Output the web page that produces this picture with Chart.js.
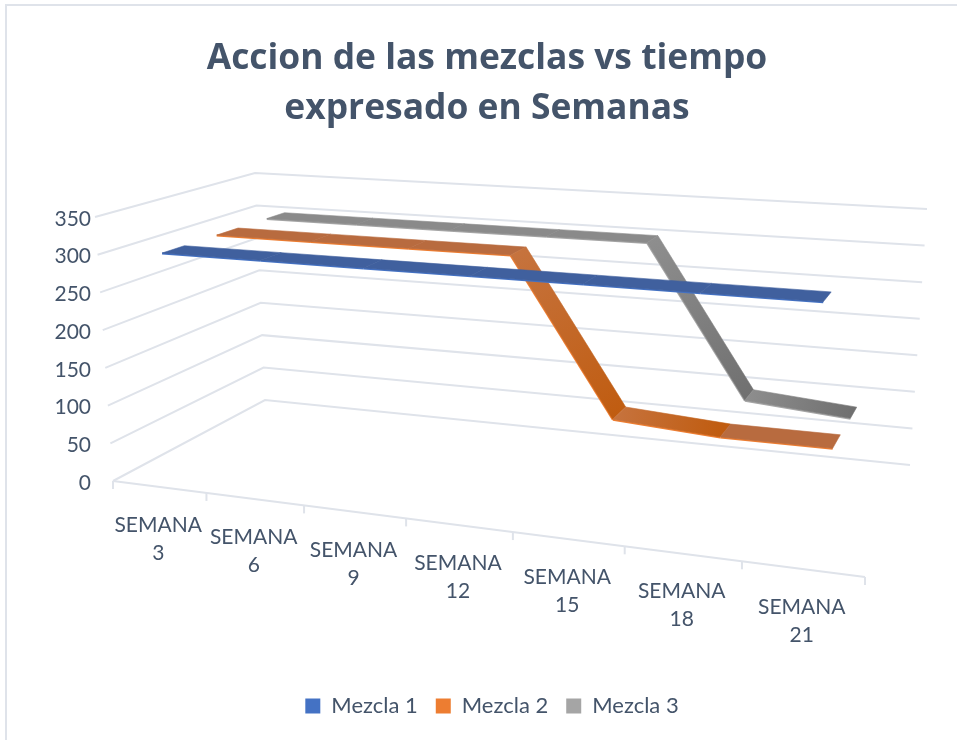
<!DOCTYPE html>
<html lang="es">
<head>
  <meta charset="UTF-8"/>
  <title>Accion de las mezclas vs tiempo</title>
  <style>
    html, body { margin: 0; background: #fff; }
    #wrap { width: 957px; height: 740px; }
  </style>
</head>
<body>
  <div id="wrap"><canvas id="chart"></canvas></div>

  <script src="https://cdn.jsdelivr.net/npm/chart.js"></script>
  <script>
  const titleLines = ['Accion de las mezclas vs tiempo', 'expresado en Semanas'];
  const semanas = ['SEMANA 3', 'SEMANA 6', 'SEMANA 9', 'SEMANA 12', 'SEMANA 15', 'SEMANA 18', 'SEMANA 21'];
  const mezcla1 = [300, 300, 300, 300, 300, 300, 300];
  const mezcla2 = [300, 300, 300, 300, 96, 87, 87];
  const mezcla3 = [300, 300, 300, 300, 300, 96, 85];
  const yTicks = [0, 50, 100, 150, 200, 250, 300, 350];

  const TEXT = '#44546a';
  const GRID = '#dfe3ea';
  const FONT = 'Lato';

  // box corners of the 3d plot: floor (v=0) and top (v=1)
  const floorQuad = [[113, 481], [865, 577], [910, 465], [265, 400]];
  const topQuad = [[95, 217], [885, 270], [927, 209], [255, 173]];

  // depth band and colours of each ribbon
  const ribbons = [
    { w0: 0.09, w1: 0.22, edge: '#4472c4', flat: '#40609e', light: '#40609e', dark: '#40609e' },
    { w0: 0.42, w1: 0.56, edge: '#ed7d31', flat: '#b86b3f', light: '#c6733e', dark: '#c05c10' },
    { w0: 0.76, w1: 0.89, edge: '#a5a5a5', flat: '#8a8a8a', light: '#8e8e8e', dark: '#707070' }
  ];

  // unit square -> quad homography, u slightly eased to match the axis spacing
  function project(u, v, w) {
    u = u + 0.03 * u * (1 - u);
    const q = floorQuad.map((p, i) => [p[0] + (topQuad[i][0] - p[0]) * v, p[1] + (topQuad[i][1] - p[1]) * v]);
    const sx = q[0][0] - q[1][0] + q[2][0] - q[3][0];
    const sy = q[0][1] - q[1][1] + q[2][1] - q[3][1];
    const dx1 = q[1][0] - q[2][0], dy1 = q[1][1] - q[2][1];
    const dx2 = q[3][0] - q[2][0], dy2 = q[3][1] - q[2][1];
    const det = dx1 * dy2 - dx2 * dy1;
    const g = (sx * dy2 - dx2 * sy) / det;
    const h = (dx1 * sy - sx * dy1) / det;
    const a = q[1][0] - q[0][0] + g * q[1][0], b = q[3][0] - q[0][0] + h * q[3][0];
    const d = q[1][1] - q[0][1] + g * q[1][1], e = q[3][1] - q[0][1] + h * q[3][1];
    const den = g * u + h * w + 1;
    return [(a * u + b * w + q[0][0]) / den, (d * u + e * w + q[0][1]) / den];
  }

  const box3d = {
    id: 'box3d',
    afterLayout(chart) {
      // legend sits a little right of the title centre
      chart.legend.left += 5;
      chart.legend.right += 5;
    },
    beforeDatasetsDraw(chart) {
      const { ctx, scales: { x: xs, y: ys } } = chart;
      const U = px => (px - xs.left) / xs.width;
      const V = px => (ys.bottom - px) / ys.height;

      ctx.save();
      // frame of the picture
      ctx.strokeStyle = GRID;
      ctx.lineWidth = 2;
      ctx.beginPath();
      ctx.moveTo(6, chart.height);
      ctx.lineTo(6, 5);
      ctx.lineTo(chart.width, 5);
      ctx.stroke();

      // walls
      ys.ticks.forEach(t => {
        const v = V(ys.getPixelForValue(t.value));
        const a = project(0, v, 0), b = project(0, v, 1), c = project(1, v, 1);
        ctx.beginPath();
        ctx.moveTo(a[0], a[1]);
        ctx.lineTo(b[0], b[1]);
        ctx.lineTo(c[0], c[1]);
        ctx.stroke();
      });

      // floor edge and tick marks
      const a0 = project(0, 0, 0), a1 = project(1, 0, 0);
      ctx.beginPath();
      ctx.moveTo(a0[0], a0[1]);
      ctx.lineTo(a1[0], a1[1]);
      ctx.stroke();
      for (let i = 0; i <= semanas.length; i++) {
        const p = project(U(xs.getPixelForValue(i - 0.5)), 0, 0);
        ctx.beginPath();
        ctx.moveTo(p[0], p[1]);
        ctx.lineTo(p[0], p[1] + 8);
        ctx.stroke();
      }

      // category labels follow the slanted axis
      ctx.fillStyle = TEXT;
      ctx.font = '21px ' + FONT;
      ctx.textAlign = 'center';
      ctx.textBaseline = 'middle';
      semanas.forEach((lab, i) => {
        const p = project(U(xs.getPixelForValue(i)), 0, 0);
        lab.split(' ').forEach((part, k) => {
          ctx.fillText(part, p[0] - 1, p[1] + 38 + k * 28);
        });
      });

      // ribbons, back one first
      for (let s = chart.data.datasets.length - 1; s >= 0; s--) {
        const pts = chart.getDatasetMeta(s).data;
        const vals = chart.data.datasets[s].data;
        const r = ribbons[s];
        for (let i = 0; i < pts.length - 1; i++) {
          const u0 = U(pts[i].x), v0 = V(pts[i].y), u1 = U(pts[i + 1].x), v1 = V(pts[i + 1].y);
          const p0 = project(u0, v0, r.w0), p1 = project(u1, v1, r.w0);
          const p2 = project(u1, v1, r.w1), p3 = project(u0, v0, r.w1);
          let fill = r.flat;
          if (vals[i + 1] < vals[i]) {
            fill = ctx.createLinearGradient(p0[0], p0[1], p1[0], p1[1]);
            fill.addColorStop(0, r.light);
            fill.addColorStop(1, r.dark);
          }
          // thin front face
          ctx.strokeStyle = r.edge;
          ctx.lineWidth = 2;
          ctx.beginPath();
          ctx.moveTo(p0[0], p0[1] + 0.5);
          ctx.lineTo(p1[0], p1[1] + 0.5);
          ctx.stroke();
          ctx.fillStyle = fill;
          ctx.strokeStyle = fill;
          ctx.lineWidth = 0.6;
          ctx.beginPath();
          ctx.moveTo(p0[0], p0[1]);
          ctx.lineTo(p1[0], p1[1]);
          ctx.lineTo(p2[0], p2[1]);
          ctx.lineTo(p3[0], p3[1]);
          ctx.closePath();
          ctx.fill();
          ctx.stroke();
        }
      }
      ctx.restore();
    }
  };

  new Chart(document.getElementById('chart'), {
    type: 'line',
    data: {
      labels: semanas,
      datasets: [
        { label: 'Mezcla 1', data: mezcla1, backgroundColor: '#4472c4', borderWidth: 0, showLine: false, pointRadius: 0 },
        { label: 'Mezcla 2', data: mezcla2, backgroundColor: '#ed7d31', borderWidth: 0, showLine: false, pointRadius: 0 },
        { label: 'Mezcla 3', data: mezcla3, backgroundColor: '#a5a5a5', borderWidth: 0, showLine: false, pointRadius: 0 }
      ]
    },
    options: {
      responsive: true,
      maintainAspectRatio: false,
      animation: false,
      layout: { padding: { left: 17, bottom: 13 } },
      plugins: {
        title: {
          display: true,
          text: titleLines,
          color: TEXT,
          font: { family: 'Open Sans', size: 35.4, weight: 'bold', lineHeight: 50 / 35.4 },
          padding: { top: 34, bottom: 85 }
        },
        legend: {
          position: 'bottom',
          labels: { color: TEXT, font: { family: FONT, size: 22 }, boxWidth: 15, boxHeight: 15, padding: 18 }
        },
        tooltip: { enabled: false }
      },
      scales: {
        x: {
          offset: true,
          grid: { display: false },
          border: { display: false },
          ticks: { display: false },
          afterFit(scale) { scale.height = 194; }
        },
        y: {
          min: 0,
          max: 350,
          afterBuildTicks(scale) { scale.ticks = yTicks.map(value => ({ value })); },
          grid: { display: false, drawTicks: false },
          border: { display: false },
          ticks: { color: TEXT, font: { family: FONT, size: 21 }, padding: 5 },
          afterFit(scale) { scale.width = 79; }
        }
      }
    },
    plugins: [box3d]
  });
  </script>
</body>
</html>
